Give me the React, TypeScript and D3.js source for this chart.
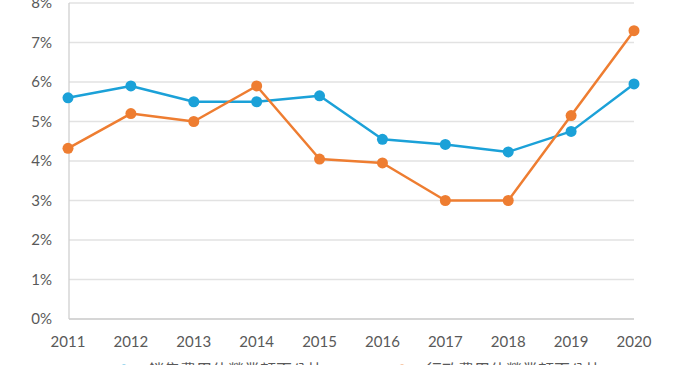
import { useEffect, useRef } from 'react';
import * as d3 from 'd3';

const years = ['2011', '2012', '2013', '2014', '2015', '2016', '2017', '2018', '2019', '2020'];
const salesRatio = [5.6, 5.9, 5.5, 5.5, 5.65, 4.55, 4.42, 4.23, 4.75, 5.95];
const adminRatio = [4.32, 5.2, 5.0, 5.9, 4.05, 3.95, 3.0, 3.0, 5.15, 7.3];
const yTicks = [0, 1, 2, 3, 4, 5, 6, 7, 8];
const seriesNames = ['銷售費用佔營業額百分比', '行政費用佔營業額百分比'];
const seriesColors = ['#1ba1d8', '#ee7d31'];

export default function App() {
  const svgRef = useRef<SVGSVGElement>(null);

  useEffect(() => {
    if (!svgRef.current) return;
    const width = 691;
    const height = 365;
    const svg = d3.select(svgRef.current);
    svg.selectAll('*').remove();

    const x = d3.scalePoint<string>().domain(years).range([68, 634]);
    const y = d3.scaleLinear().domain([0, 8]).range([319, 3]);

    // gridlines
    svg.append('g')
      .selectAll('line')
      .data(yTicks)
      .enter()
      .append('line')
      .attr('x1', 69)
      .attr('x2', 634)
      .attr('y1', d => y(d))
      .attr('y2', d => y(d))
      .attr('stroke', d => (d === 0 ? '#c8c8c8' : '#e2e2e2'))
      .attr('stroke-width', 1.3);

    // y axis line
    svg.append('line')
      .attr('x1', 69).attr('x2', 69)
      .attr('y1', y(8)).attr('y2', y(0))
      .attr('stroke', '#d0d0d0')
      .attr('stroke-width', 1.3);

    // y labels
    svg.append('g')
      .selectAll('text')
      .data(yTicks)
      .enter()
      .append('text')
      .attr('x', 52)
      .attr('y', d => y(d))
      .attr('dy', '0.36em')
      .attr('text-anchor', 'end')
      .attr('fill', '#595959')
      .attr('font-family', 'Lato, "Open Sans", sans-serif')
      .attr('font-size', 15)
      .text(d => `${d}%`);

    // x labels
    svg.append('g')
      .selectAll('text')
      .data(years)
      .enter()
      .append('text')
      .attr('x', d => x(d)!)
      .attr('y', 347)
      .attr('text-anchor', 'middle')
      .attr('fill', '#595959')
      .attr('font-family', 'Lato, "Open Sans", sans-serif')
      .attr('font-size', 15)
      .text(d => d);

    const series = [salesRatio, adminRatio];
    const line = d3.line<number>()
      .x((d, i) => x(years[i])!)
      .y(d => y(d));

    series.forEach((vals, si) => {
      svg.append('path')
        .attr('d', line(vals))
        .attr('fill', 'none')
        .attr('stroke', seriesColors[si])
        .attr('stroke-width', 2.5)
        .attr('stroke-linejoin', 'round');
    });

    series.forEach((vals, si) => {
      svg.append('g')
        .selectAll('circle')
        .data(vals)
        .enter()
        .append('circle')
        .attr('cx', (d, i) => x(years[i])!)
        .attr('cy', d => y(d))
        .attr('r', 5.5)
        .attr('fill', seriesColors[si]);
    });

    // legend (cut off at bottom)
    const legendX = [110, 388];
    seriesNames.forEach((name, i) => {
      const g = svg.append('g').attr('transform', `translate(${legendX[i]}, 370)`);
      g.append('line')
        .attr('x1', 0).attr('x2', 28)
        .attr('stroke', seriesColors[i])
        .attr('stroke-width', 2.5);
      g.append('circle')
        .attr('cx', 14).attr('cy', 0).attr('r', 5.5)
        .attr('fill', seriesColors[i]);
      g.append('text')
        .attr('x', 38)
        .attr('y', 6)
        .attr('fill', '#595959')
        .attr('font-family', '"Noto Sans CJK TC", sans-serif')
        .attr('font-size', 16)
        .text(name);
    });

    svg.attr('width', width).attr('height', height);
  }, []);

  return (
    <svg
      ref={svgRef}
      width={691}
      height={365}
      style={{ position: 'absolute', left: 0, top: 0, background: '#fff' }}
    />
  );
}
